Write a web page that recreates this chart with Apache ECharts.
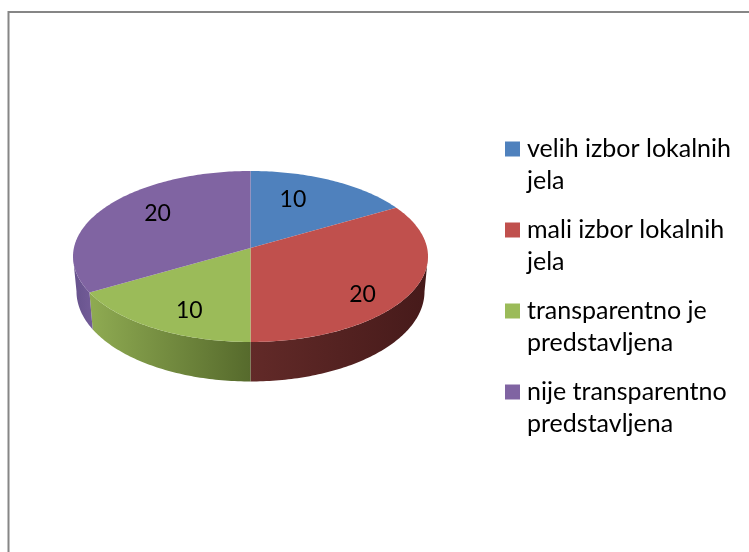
<!DOCTYPE html>
<html>
<head>
<meta charset="utf-8">
<style>html,body{margin:0;padding:0;background:#fff}#c{width:749px;height:552px}</style>
<script src="https://cdn.jsdelivr.net/npm/echarts@6/dist/echarts.min.js"></script>
</head>
<body>
<div id="c"></div>
<script>
const categories = ['velih izbor lokalnih\njela', 'mali izbor lokalnih\njela', 'transparentno je\npredstavljena', 'nije transparentno\npredstavljena'];
const values = [10, 20, 10, 20];
const colors = ['#4f81bd', '#c0504d', '#9bbb59', '#8064a2'];
const wallColors = [['#3a5f8c', '#3a5f8c'], ['#622a28', '#461a1a'], ['#8fab52', '#566a2c'], ['#66528c', '#735c98']];
const labelRho = [0.652, 0.797, 0.763, 0.696];
const labelShift = [-7, 11, -5, 8];

const top3d = {cx: 250.5, cy: 256.5, rx: 177.5, ry: 85.5};
const low3d = {cx: 250.5, cy: 291.5, rx: 174, ry: 90};
const tilt = 0.1;
const s = Math.sqrt(1 - tilt * tilt);
const total = values.reduce((a, b) => a + b, 0);
const LEFT_VIS = Math.PI + Math.acos(tilt);
const RIGHT_VIS = Math.PI - Math.acos(tilt);

function proj(t, rho, e) {
  const x = rho * Math.sin(t), y = rho * Math.cos(t);
  const k = 1 + tilt * y;
  return [e.cx + e.rx * x * s / k, e.cy - e.ry * (y + tilt) / k];
}
function arc(a, b, e) {
  const n = Math.max(2, Math.ceil(Math.abs(b - a) * 60));
  const pts = [];
  for (let i = 0; i <= n; i++) pts.push(proj(a + (b - a) * i / n, 1, e));
  return pts;
}
function sliceRender(idx) {
  return function (params, api) {
    let before = 0;
    for (let i = 0; i < idx; i++) before += values[i];
    const a = before / total * 2 * Math.PI;
    const b = a + api.value(0) / total * 2 * Math.PI;
    const children = [];
    const wa = Math.max(a, RIGHT_VIS), wb = Math.min(b, LEFT_VIS);
    if (wb > wa) {
      const pts = arc(wa, wb, top3d).concat(arc(wa, wb, low3d).reverse());
      children.push({
        type: 'polygon', shape: {points: pts},
        style: {fill: new echarts.graphic.LinearGradient(0, 0, 1, 0, [
          {offset: 0, color: wallColors[idx][0]},
          {offset: 1, color: wallColors[idx][1]}
        ])}
      });
    }
    children.push({
      type: 'polygon',
      shape: {points: [[top3d.cx, top3d.cy - top3d.ry * tilt]].concat(arc(a, b, top3d))},
      style: {fill: colors[idx]}
    });
    const lt = (a + b) / 2 + labelShift[idx] * Math.PI / 180;
    const lp = proj(lt, labelRho[idx], top3d);
    children.push({
      type: 'text', x: lp[0], y: lp[1],
      style: {text: String(api.value(0)), fill: '#000', font: '23px Lato', align: 'center', verticalAlign: 'middle'}
    });
    return {type: 'group', children: children};
  };
}

const chart = echarts.init(document.getElementById('c'), null, {renderer: 'canvas'});
chart.setOption({
  animation: false,
  backgroundColor: '#fff',
  graphic: [
    {type: 'line', shape: {x1: 8.5, y1: 12, x2: 749, y2: 12}, style: {stroke: '#868686', lineWidth: 2}},
    {type: 'line', shape: {x1: 8.5, y1: 11, x2: 8.5, y2: 552}, style: {stroke: '#868686', lineWidth: 2}}
  ],
  legend: {
    orient: 'vertical', left: 505, top: 101, padding: 0, itemWidth: 15, itemHeight: 15, itemGap: -15,
    icon: 'rect', selectedMode: false,
    formatter: name => '\n' + name,
    textStyle: {fontFamily: 'Lato', fontSize: 25, color: '#000', lineHeight: 32, padding: [0, 0, 0, 2]}
  },
  series: categories.map((name, i) => ({
    type: 'custom', name: name, coordinateSystem: 'none', silent: true,
    itemStyle: {color: colors[i]},
    renderItem: sliceRender(i),
    data: [[values[i]]]
  }))
});
</script>
</body>
</html>
